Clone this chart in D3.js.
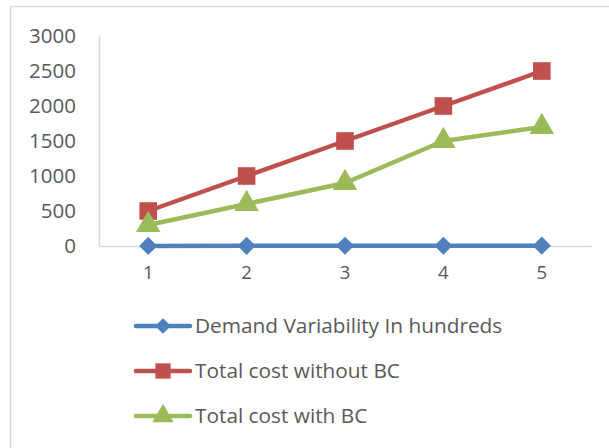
<!DOCTYPE html>
<html><head><meta charset="utf-8">
<script src="https://cdn.jsdelivr.net/npm/d3@7"></script>
<style>body{margin:0;background:#fff}svg{display:block}</style>
</head><body>
<script>
const categories = ["1","2","3","4","5"];
const demandVariability = [1,2,3,4,5];
const costWithoutBC = [500,1000,1500,2000,2500];
const costWithBC = [300,600,900,1500,1700];
const yTicks = [0,500,1000,1500,2000,2500,3000];
const seriesNames = ["Demand Variability In hundreds","Total cost without BC","Total cost with BC"];

const W=609,H=448;
const svg=d3.select("body").append("svg").attr("width",W).attr("height",H);
const font="'Open Sans', sans-serif", tc="#595959";
svg.append("rect").attr("x",10.5).attr("y",6.5).attr("width",700).attr("height",600)
  .attr("fill","#fff").attr("stroke","#d9d9d9").attr("stroke-width",1.5);

const x=d3.scaleBand().domain(categories).range([99,591]);
const y=d3.scaleLinear().domain([0,3000]).range([246,36]);

const ya=svg.append("g").attr("transform","translate(99,0)")
  .call(d3.axisLeft(y).tickValues(yTicks).tickFormat(d3.format("d")).tickSize(0).tickPadding(23));
ya.select(".domain").attr("stroke","#d9d9d9").attr("stroke-width",1.5);
ya.selectAll("text").attr("font-family",font).attr("font-size",20.5).attr("fill",tc);
const xa=svg.append("g").attr("transform","translate(0,246)")
  .call(d3.axisBottom(x).tickSize(0).tickPadding(20));
xa.select(".domain").attr("stroke","#d9d9d9").attr("stroke-width",1.5);
xa.selectAll("text").attr("font-family",font).attr("font-size",18.5).attr("fill",tc);

const colors=["#4f81bd","#c0504d","#9bbb59"];
const shapes=[d3.symbolDiamond2,d3.symbolSquare,d3.symbolTriangle];
const sizes=[210,310,260];
const data=[demandVariability,costWithoutBC,costWithBC];
const cx=(i)=>x(categories[i])+x.bandwidth()/2;
const line=d3.line().x((d,i)=>cx(i)).y(d=>y(d));

data.forEach((vals,s)=>{
  svg.append("path").attr("d",line(vals)).attr("fill","none").attr("stroke",colors[s])
    .attr("stroke-width",4.5).attr("stroke-linejoin","round");
  svg.selectAll(null).data(vals).enter().append("path")
    .attr("d",d3.symbol().type(shapes[s]).size(sizes[s]))
    .attr("transform",(d,i)=>`translate(${cx(i)},${y(d)})`)
    .attr("fill",colors[s]);
});

const ly=[326,371,416];
seriesNames.forEach((n,s)=>{
  svg.append("line").attr("x1",136).attr("x2",190).attr("y1",ly[s]).attr("y2",ly[s])
    .attr("stroke",colors[s]).attr("stroke-width",4.5).attr("stroke-linecap","round");
  svg.append("path").attr("d",d3.symbol().type(shapes[s]).size(sizes[s]*0.75))
    .attr("transform",`translate(163,${ly[s]})`).attr("fill",colors[s]);
  svg.append("text").attr("x",195).attr("y",ly[s]).attr("dy","0.35em")
    .attr("font-family",font).attr("font-size",20.8).attr("fill",tc).text(n);
});
</script>
</body></html>
